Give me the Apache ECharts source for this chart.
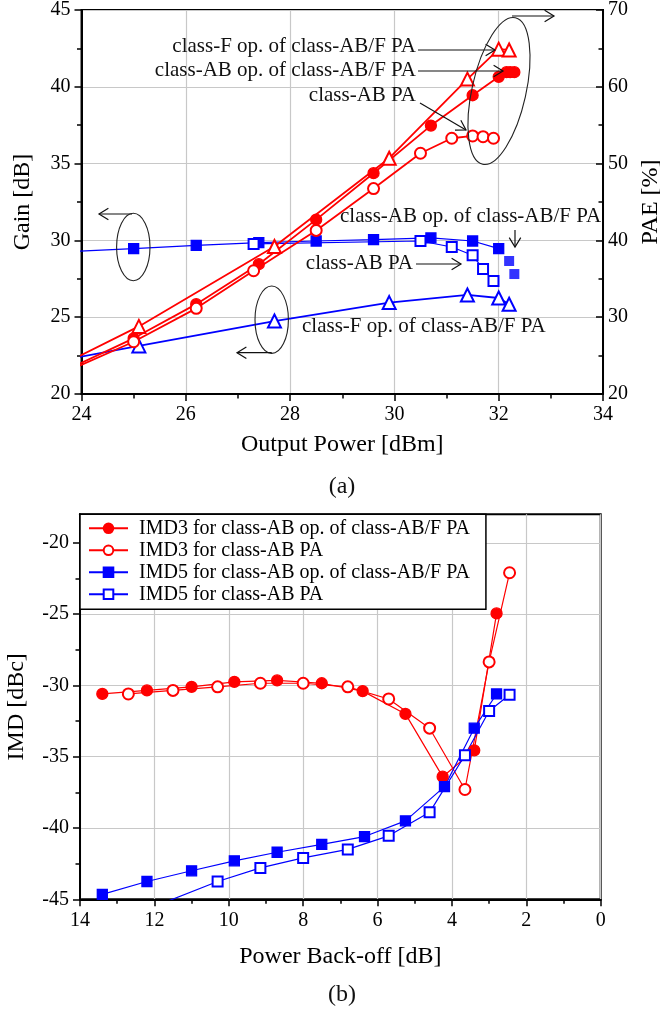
<!DOCTYPE html>
<html><head><meta charset="utf-8">
<script src="https://cdn.jsdelivr.net/npm/echarts@6/dist/echarts.min.js"></script>
<style>html,body{margin:0;padding:0;background:#fff}#c{width:660px;height:1013px}</style>
</head><body><div id="c"></div>
<script>
// ---------- (a) Gain [dB] / PAE [%] vs Output Power [dBm] ----------
const gainABopAF     = [[23,29.15],[25,29.46],[26.2,29.68],[27.4,29.85],[28.5,29.96],[29.6,30.05],[30.7,30.16],[31.5,29.96],[32.0,29.46]];
const gainABopAFTail = [[32.2,28.66],[32.3,27.81]];
const gainABPA       = [[27.3,29.77],[30.5,29.96],[31.1,29.57],[31.5,29.03],[31.7,28.14],[31.9,27.36]];
const gainFopAF      = [[23,21.8],[25.1,23.13],[27.7,24.75],[29.9,25.95],[31.4,26.45],[32.0,26.25],[32.2,25.84]];
const paeFopAF       = [[23,21.7],[25.1,28.8],[27.7,39.2],[29.9,50.7],[31.4,61.0],[32.0,64.9],[32.2,64.8]];
const paeABopAF      = [[23,20.9],[25.0,27.25],[26.2,31.7],[27.4,36.9],[28.5,42.7],[29.6,48.75],[30.7,54.95],[31.5,58.9],[32.0,61.3],[32.15,61.9],[32.22,61.9],[32.3,61.9]];
const paeABPA        = [[23,20.8],[25.0,26.8],[26.2,31.15],[27.3,36.05],[28.5,41.3],[29.6,46.75],[30.5,51.35],[31.1,53.3],[31.5,53.6],[31.7,53.5],[31.9,53.3]];

// ---------- (b) IMD [dBc] vs Power Back-off [dB] ----------
const imd3ABopAF = [[13.4,-30.6],[12.2,-30.35],[11.0,-30.1],[9.85,-29.75],[8.7,-29.65],[7.5,-29.85],[6.4,-30.4],[5.25,-32.0],[4.25,-36.4],[3.4,-34.55],[2.8,-24.95]];
const imd3ABPA   = [[12.7,-30.6],[11.5,-30.35],[10.3,-30.1],[9.15,-29.85],[8.0,-29.85],[6.8,-30.1],[5.7,-30.95],[4.6,-33.0],[3.65,-37.3],[3.0,-28.35],[2.45,-22.1]];
const imd5ABopAF = [[13.4,-44.65],[12.2,-43.75],[11.0,-43.0],[9.85,-42.3],[8.7,-41.7],[7.5,-41.15],[6.35,-40.6],[5.25,-39.5],[4.2,-37.1],[3.4,-33.0],[2.8,-30.6]];
const imd5ABPA   = [[12.0,-45.5],[10.3,-43.75],[9.15,-42.8],[8.0,-42.1],[6.8,-41.5],[5.7,-40.55],[4.6,-38.9],[3.65,-34.9],[3.0,-31.8],[2.45,-30.65]];

const imdMajorTicks = [-45,-40,-35,-30,-25,-20];
const imdMinorTicks = [-42.5,-37.5,-32.5,-27.5,-22.5];
const legendNames = ['IMD3 for class-AB op. of class-AB/F PA','IMD3 for class-AB PA','IMD5 for class-AB op. of class-AB/F PA','IMD5 for class-AB PA'];

const FONT = 'Liberation Serif';
const RED = '#ff0000', BLUE = '#0000ff';

function axisBase(extra){
  return Object.assign({
    type:'value',
    axisLine:{show:true,onZero:false,lineStyle:{color:'#000',width:2}},
    axisTick:{show:true,length:7,lineStyle:{color:'#000',width:1.5}},
    minorTick:{show:true,splitNumber:2,length:4.5,lineStyle:{color:'#000',width:1.5}},
    axisLabel:{color:'#000',fontFamily:FONT,fontSize:20,margin:11},
    splitLine:{show:true,lineStyle:{color:'#c8c8c8',width:1.2}},
    nameLocation:'middle',
    nameTextStyle:{color:'#000',fontFamily:FONT,fontSize:24}
  }, extra);
}

function arrow(x1,y1,x2,y2){
  const a=Math.atan2(y2-y1,x2-x1), L=11, W=0.55;
  const p1=[x2-L*Math.cos(a-W), y2-L*Math.sin(a-W)];
  const p2=[x2-L*Math.cos(a+W), y2-L*Math.sin(a+W)];
  return [
    {type:'line',silent:true,z:100,shape:{x1:x1,y1:y1,x2:x2,y2:y2},style:{stroke:'#111',lineWidth:1.2}},
    {type:'polyline',silent:true,z:100,shape:{points:[p1,[x2,y2],p2]},style:{stroke:'#111',lineWidth:1.2,fill:null}}
  ];
}
function label(text,x,y,align,size){
  return {type:'text',silent:true,z:100,x:x,y:y,style:{text:text,fontFamily:FONT,fontSize:size||21,fill:'#111',align:align||'left',verticalAlign:'middle'}};
}
function ellipse(cx,cy,rx,ry,rot){
  return {type:'ellipse',silent:true,z:100,x:cx,y:cy,rotation:rot||0,shape:{cx:0,cy:0,rx:rx,ry:ry},style:{stroke:'#222',lineWidth:1.1,fill:null}};
}

function lineSeries(name,data,xi,yi,color,symbol,size,lw){
  return {name:name,type:'line',xAxisIndex:xi,yAxisIndex:yi,data:data,symbol:symbol,symbolSize:size,
    showAllSymbol:true,clip:true,color:color,
    lineStyle:{color:color,width:lw},
    itemStyle:{color:color,borderColor:color,borderWidth:1.3},
    emphasis:{disabled:true},animation:false};
}

const graphics = [].concat(
  // red annotations (PAE)
  [label('class-F op. of class-AB/F PA',416,46,'right')], arrow(418,50,495,50),
  [label('class-AB op. of class-AB/F PA',416,70,'right')], arrow(418,71,503,71),
  [label('class-AB PA',416,95,'right')], arrow(420,103,466,130),
  [ellipse(499,91,27,75,-0.22)], arrow(512,16,554,16),
  // blue annotations (Gain)
  [label('class-AB op. of class-AB/F PA',340,216,'left')], arrow(515,230,515,247),
  [label('class-AB PA',413,263.5,'right')], arrow(416,264,461,264),
  [label('class-F op. of class-AB/F PA',302,326,'left')],
  [ellipse(133.3,247,16.7,33.7,0)], arrow(132,214,99,214),
  [ellipse(271.7,319.7,16.7,33.7,0)], arrow(271.7,352.7,237,352.7),
  // sub-captions
  [label('(a)',342,487,'center',24), label('(b)',342,995,'center',24)]
);

const gridB = {left:80,top:514.3,width:520.7,height:385,outerBoundsMode:'none',containLabel:false};
const option = {
  backgroundColor:'#fff',
  animation:false,
  grid:[
    {left:81.5,top:10,width:521.5,height:384,show:true,borderColor:'#000',borderWidth:2,backgroundColor:'transparent',outerBoundsMode:'none',containLabel:false},
    Object.assign({show:true,borderColor:'#000',borderWidth:2,backgroundColor:'transparent'},gridB),
    Object.assign({show:false},gridB)
  ],
  xAxis:[
    axisBase({gridIndex:0,min:24,max:34,interval:2,name:'Output Power [dBm]',nameGap:39}),
    axisBase({gridIndex:1,min:0,max:14,interval:2,inverse:true,name:'Power Back-off [dB]',nameGap:45}),
    {type:'value',gridIndex:2,min:0,max:14,show:false}
  ],
  yAxis:[
    axisBase({gridIndex:0,min:20,max:45,interval:5,position:'left',name:'Gain [dB]',nameGap:47,nameRotate:90}),
    axisBase({gridIndex:0,min:20,max:70,interval:10,position:'right',name:'PAE [%]',nameGap:34,nameRotate:90,
      axisTick:{show:true,inside:true,length:7,lineStyle:{color:'#000',width:1.5}},
      minorTick:{show:true,splitNumber:2,length:4.5,lineStyle:{color:'#000',width:1.5}},
      axisLabel:{color:'#000',fontFamily:FONT,fontSize:20,margin:5},
      splitLine:{show:false}}),
    axisBase({gridIndex:1,min:-45,max:-18,position:'left',name:'IMD [dBc]',nameGap:51,nameRotate:90,
      axisTick:{show:true,length:7,customValues:imdMajorTicks,lineStyle:{color:'#000',width:1.5}},
      minorTick:{show:false},
      axisLabel:{color:'#000',fontFamily:FONT,fontSize:20,margin:11,customValues:imdMajorTicks},
      splitLine:{show:true,lineStyle:{color:'#c8c8c8',width:1.2}}}),
    axisBase({gridIndex:2,min:-45,max:-18,position:'left',
      axisLine:{show:false},
      axisTick:{show:true,length:4.5,customValues:imdMinorTicks,lineStyle:{color:'#000',width:1.5}},
      minorTick:{show:false},axisLabel:{show:false},splitLine:{show:false}})
  ],
  legend:{
    data:legendNames,orient:'vertical',left:80,top:514.3,
    padding:[4,16,5,8],itemGap:2,itemWidth:39,itemHeight:12,
    borderColor:'#000',borderWidth:1.5,backgroundColor:'#fff',borderRadius:0,
    textStyle:{fontFamily:FONT,fontSize:20,color:'#000',padding:[0,0,0,6]},
    selectedMode:false
  },
  graphic:{elements:graphics},
  series:[
    lineSeries('gainABopAF',gainABopAF,0,0,BLUE,'rect',10,1.2),
    {name:'gainABopAFTail',type:'scatter',xAxisIndex:0,yAxisIndex:0,data:gainABopAFTail,symbol:'rect',symbolSize:10,itemStyle:{color:BLUE},animation:false},
    lineSeries('gainABPA',gainABPA,0,0,BLUE,'emptyRect',10,1.2),
    lineSeries('gainFopAF',gainFopAF,0,0,BLUE,'emptyTriangle',13,1.8),
    lineSeries('paeFopAF',paeFopAF,0,1,RED,'emptyTriangle',13,1.8),
    lineSeries('paeABopAF',paeABopAF,0,1,RED,'circle',11,1.8),
    lineSeries('paeABPA',paeABPA,0,1,RED,'emptyCircle',11,1.8),
    lineSeries(legendNames[0],imd3ABopAF,1,2,RED,'circle',11,1.2),
    lineSeries(legendNames[1],imd3ABPA,1,2,RED,'emptyCircle',11,1.2),
    lineSeries(legendNames[2],imd5ABopAF,1,2,BLUE,'rect',10,1.2),
    lineSeries(legendNames[3],imd5ABPA,1,2,BLUE,'emptyRect',10,1.2)
  ]
};
const chart = echarts.init(document.getElementById('c'));
chart.setOption(option);
</script>
</body></html>
